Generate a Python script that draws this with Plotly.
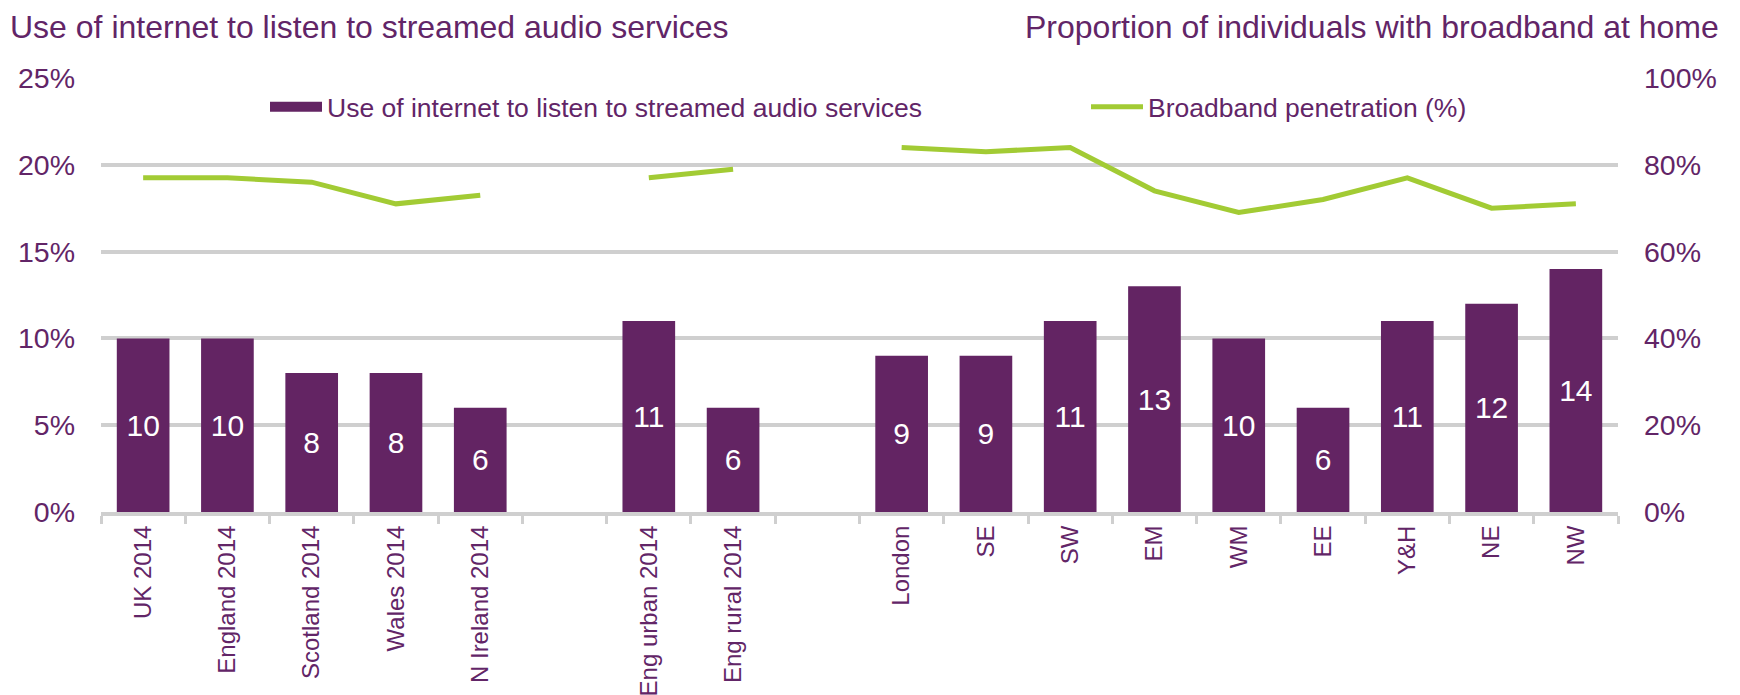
import plotly.graph_objects as go

categories = ["UK 2014", "England 2014", "Scotland 2014", "Wales 2014", "N Ireland 2014", " ",
              "Eng urban 2014", "Eng rural 2014", "  ",
              "London", "SE", "SW", "EM", "WM", "EE", "Y&H", "NE", "NW"]
streaming = [10, 10, 8, 8, 6, None, 11, 6, None, 9, 9, 11, 13, 10, 6, 11, 12, 14]
broadband = [77, 77, 76, 71, 73, None, 77, 79, None, 84, 83, 84, 74, 69, 72, 77, 70, 71]
left_ticks = [0, 5, 10, 15, 20, 25]
left_labels = ["0%", "5%", "10%", "15%", "20%", "25%"]
right_ticks = [0, 20, 40, 60, 80, 100]
right_labels = ["0%", "20%", "40%", "60%", "80%", "100%"]

PURPLE = "#632463"
TEXT = "#622567"
GREEN = "#A2CB34"
GRID = "#CFCFCF"
FONT = "Liberation Sans, Arial, sans-serif"

# The page body has an 8px default margin, so the figure is sized to fit the window.
W, H = 1732, 687
L, R, T, B = 93, 122, 70, 183
PW, PH = W - L - R, H - T - B

fig = go.Figure()
fig.add_trace(go.Bar(
    x=categories, y=streaming,
    name="Use of internet to listen to streamed audio services",
    marker=dict(color=PURPLE, line=dict(width=0)),
    text=[("" if v is None else str(v)) for v in streaming],
    textposition="inside", insidetextanchor="middle",
    textfont=dict(color="white", size=30, family=FONT),
    showlegend=False, hoverinfo="skip",
))
# legend-only key for the bars (wide rectangular key as in the original)
fig.add_trace(go.Scatter(
    x=[None], y=[None], mode="lines",
    name="Use of internet to listen to streamed audio services",
    line=dict(color=PURPLE, width=13), legend="legend", hoverinfo="skip",
))
fig.add_trace(go.Scatter(
    x=categories, y=broadband, yaxis="y2", mode="lines",
    name="Broadband penetration (%)",
    line=dict(color=GREEN, width=5),
    connectgaps=False, legend="legend2",
    hoverinfo="skip",
))

legend_common = dict(orientation="h", yanchor="middle", y=(H - B - 99) / PH,
                     font=dict(size=26.5, color=TEXT, family=FONT),
                     bgcolor="rgba(0,0,0,0)", itemwidth=52, xanchor="left")

fig.update_layout(
    width=W, height=H,
    margin=dict(l=L, r=R, t=T, b=B, autoexpand=False),
    paper_bgcolor="white", plot_bgcolor="white",
    font=dict(family=FONT, color=TEXT),
    bargap=0.375,
    showlegend=True,
    legend=dict(x=(257 - L) / PW, **legend_common),
    legend2=dict(x=(1078 - L) / PW, **legend_common),
    xaxis=dict(type="category", tickangle=-90, tickfont=dict(size=24, color=TEXT),
               showline=True, linecolor=GRID, linewidth=4,
               ticks="outside", ticklen=8, tickwidth=3, tickcolor=GRID,
               tickson="boundaries", showgrid=False, fixedrange=True,
               ticklabelstandoff=0, automargin=False),
    yaxis=dict(range=[0, 25], tickvals=left_ticks, ticktext=left_labels,
               tickfont=dict(size=28.5, color=TEXT),
               showgrid=True, gridcolor=GRID, gridwidth=4, zeroline=False,
               showline=False, ticks="", ticklabelstandoff=25, automargin=False),
    yaxis2=dict(range=[0, 100], tickvals=right_ticks, ticktext=right_labels, overlaying="y",
                side="right", tickfont=dict(size=28.5, color=TEXT),
                showgrid=False, zeroline=False, showline=False, ticks="",
                ticklabelstandoff=25, automargin=False),
    annotations=[
        dict(text="Use of internet to listen to streamed audio services", xref="paper", yref="paper",
             x=(0 - L) / PW, y=1 + (T - 19) / PH, xanchor="left", yanchor="middle",
             showarrow=False, font=dict(size=32, color=TEXT, family=FONT)),
        dict(text="Proportion of individuals with broadband at home", xref="paper", yref="paper",
             x=(1713 - L) / PW, y=1 + (T - 19) / PH, xanchor="right", yanchor="middle",
             showarrow=False, font=dict(size=32, color=TEXT, family=FONT)),
    ],
)

fig.write_html("out.html")
